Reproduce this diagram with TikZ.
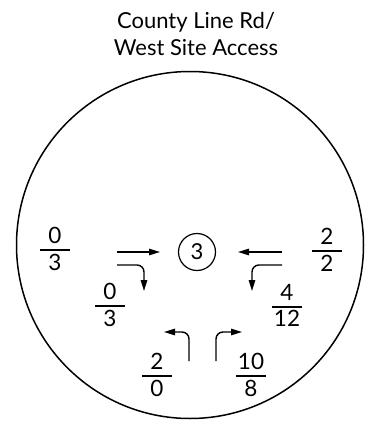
\documentclass[tikz,border=0pt]{standalone}
\usepackage{fontspec}
\setmainfont{Lato}
\usetikzlibrary{arrows.meta}
\tikzset{
  ringbox/.style={draw,circle,line width=1.5pt,minimum size=347pt,inner sep=0pt},
  sitebox/.style={draw,circle,line width=1.2pt,minimum size=37pt,inner sep=0pt,font=\fontsize{22}{22}\selectfont},
  titlebox/.style={align=center,inner sep=0pt,font=\fontsize{22}{27}\selectfont},
  volbox/.style={inner sep=0pt,font=\fontsize{22.5}{23}\selectfont},
  movearr/.style={-{Triangle[length=11pt,width=6.5pt]},line width=1.4pt,rounded corners=7pt}
}
\newcommand{\vol}[2]{\setlength{\arrayrulewidth}{1.4pt}%
  \begin{tabular}{@{}c@{}}\makebox[30pt]{#1}\\[-1pt]\hline\noalign{\vskip 3pt}#2\end{tabular}}

\begin{document}
\begin{tikzpicture}[x=1pt,y=-1pt]
  \useasboundingbox (0,0) rectangle (377,434);

  %% Title
  \node[titlebox] (title) at (196,34) {County Line Rd/\\West Site Access};

  %% Outer ring and intersection number
  \node[ringbox] (ring) at (190,245) {};
  \node[sitebox] (site) at (197,252) {3};

  %% Volume labels
  \node[volbox] (wbthru) at (55,252) {\vol{0}{3}};
  \node[volbox] (wbturn) at (110,308) {\vol{0}{3}};
  \node[volbox] (ebthru) at (327,253) {\vol{2}{2}};
  \node[volbox] (ebturn) at (287,309) {\vol{4}{12}};
  \node[volbox] (nbleft) at (157,378) {\vol{2}{0}};
  \node[volbox] (nbright) at (251,378) {\vol{10}{8}};

  %% Movement arrows
  \coordinate (wthruA) at (117,252);
  \coordinate (wthruB) at (160,252);
  \coordinate (wrtA) at (117,265);
  \coordinate (wrtB) at (144,265);
  \coordinate (wrtC) at (144,291);
  \coordinate (ethruA) at (282,252);
  \coordinate (ethruB) at (238,252);
  \coordinate (eltA) at (282,265);
  \coordinate (eltB) at (252,265);
  \coordinate (eltC) at (252,291);
  \coordinate (nltA) at (189,361);
  \coordinate (nltB) at (189,332);
  \coordinate (nltC) at (164,332);
  \coordinate (nrtA) at (216,361);
  \coordinate (nrtB) at (216,332);
  \coordinate (nrtC) at (242,332);

  \draw[movearr] (wthruA) -- (wthruB);
  \draw[movearr] (wrtA) -- (wrtB) -- (wrtC);
  \draw[movearr] (ethruA) -- (ethruB);
  \draw[movearr] (eltA) -- (eltB) -- (eltC);
  \draw[movearr] (nltA) -- (nltB) -- (nltC);
  \draw[movearr] (nrtA) -- (nrtB) -- (nrtC);
\end{tikzpicture}
\end{document}
